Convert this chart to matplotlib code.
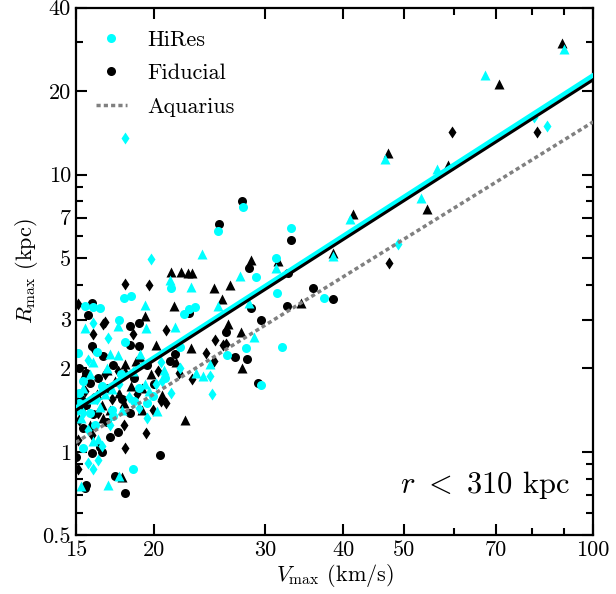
import matplotlib
matplotlib.use("Agg")
import matplotlib.pyplot as plt
import matplotlib.ticker as mticker
import numpy as np

plt.rcParams['font.family'] = 'serif'
plt.rcParams['font.serif'] = ['cmr10', 'DejaVu Serif']
plt.rcParams['mathtext.fontset'] = 'cm'
plt.rcParams['axes.unicode_minus'] = False

# --- Fiducial (black) ---
fid_circ_v = [27.6, 25.4, 33.0, 32.7, 28.3, 35.8, 38.5, 32.5, 28.5, 29.6, 26.0, 28.1, 26.9, 29.3,
              15.9, 15.7, 18.9, 18.3, 18.3, 18.9, 15.9, 16.6, 21.2, 21.6, 15.6, 15.8, 16.1, 16.0,
              17.5, 20.4, 17.3, 18.0, 15.6, 15.5, 15.9, 16.5, 16.4, 17.0, 15.0, 22.7,
              15.3, 15.6, 16.3, 16.9, 17.2, 17.8, 18.6, 19.5, 20.0, 15.2, 16.8, 18.3, 15.4]
fid_circ_r = [8.0, 6.65, 5.8, 4.4, 4.6, 3.9, 3.55, 3.37, 3.3, 3.0, 2.7, 2.17, 2.2, 1.77,
              3.45, 3.12, 2.92, 2.85, 2.43, 2.41, 2.41, 2.22, 2.13, 2.26, 1.92, 1.77, 1.57, 1.37,
              1.18, 0.975, 0.82, 0.71, 0.76, 0.74, 0.99, 1.0, 1.04, 1.13, 0.96, 3.17,
              1.55, 1.48, 1.85, 1.7, 2.05, 1.55, 1.85, 2.05, 1.75, 2.0, 1.28, 1.38, 1.22]

fid_tri_v = [89.2, 70.8, 47.1, 58.7, 54.4, 41.4, 38.5, 28.5, 31.5, 26.4, 24.9, 25.6, 34.3, 26.2,
             27.5, 27.6, 22.9, 23.0, 21.3, 22.1, 22.6, 19.3, 21.5, 20.1, 18.0, 18.7, 21.7, 15.5,
             16.8, 18.0, 19.1, 19.1, 16.5, 17.6, 17.8, 22.4,
             15.3, 16.2, 16.6, 17.3, 17.9, 18.4, 19.8, 20.6, 15.8, 17.0, 19.0]
fid_tri_r = [29.9, 21.3, 12.0, 10.8, 7.5, 7.2, 5.2, 4.9, 4.86, 4.0, 3.9, 3.57, 3.45, 2.9,
             2.7, 2.0, 2.37, 4.4, 4.47, 4.47, 4.4, 3.1, 3.37, 2.43, 2.08, 2.13, 2.1, 1.93,
             1.98, 1.96, 1.7, 1.41, 1.47, 1.63, 0.81, 1.3,
             1.45, 1.62, 1.32, 1.8, 1.5, 1.72, 1.9, 1.6, 1.25, 1.42, 2.2]

fid_diam_v = [59.6, 81.3, 47.3, 18.0, 19.6, 15.1, 16.7, 16.6, 16.0, 18.5, 20.9, 16.0, 21.9, 20.9,
              20.5, 25.0, 25.7, 26.0, 24.2, 24.9, 23.0, 19.4, 18.0, 15.1, 15.1, 17.5, 15.2,
              15.5, 16.3, 17.1, 17.9, 18.8, 19.9, 15.9, 16.7, 20.3]
fid_diam_r = [14.2, 14.2, 4.8, 4.04, 3.98, 3.42, 2.95, 2.9, 2.67, 2.67, 2.76, 2.36, 1.93, 1.5,
              1.53, 2.54, 2.43, 2.45, 2.28, 2.13, 1.83, 1.17, 1.03, 0.87, 1.1, 1.95, 1.3,
              1.65, 1.38, 1.55, 1.25, 1.62, 1.42, 1.15, 1.9, 1.95]

# --- HiRes (cyan) ---
hr_circ_v = [27.7, 25.3, 33.0, 31.2, 29.0, 31.4, 37.3, 31.9, 29.6, 28.0, 26.1, 15.5, 16.0, 16.4,
             17.9, 18.4, 17.6, 21.3, 22.3, 18.0, 15.1, 16.2, 22.0, 19.9, 18.6, 15.2, 17.1, 18.5,
             15.4, 23.2, 22.7,
             15.2, 15.8, 16.5, 17.2, 17.7, 18.9, 15.4, 16.1, 19.5, 20.8]
hr_circ_r = [7.66, 6.28, 6.44, 5.0, 4.28, 3.75, 3.6, 2.39, 1.74, 2.36, 2.24, 3.37, 3.34, 3.31,
             3.6, 3.66, 3.0, 3.91, 3.15, 2.49, 2.28, 2.29, 2.39, 1.59, 1.53, 1.63, 1.41, 0.868,
             1.03, 3.34, 3.28,
             1.5, 1.38, 1.72, 1.35, 1.9, 1.7, 1.8, 1.25, 1.5, 1.85]

hr_tri_v = [90.0, 67.3, 46.6, 56.4, 53.2, 41.0, 38.5, 23.8, 27.4, 25.3, 28.8, 24.5, 23.3, 23.9,
            21.2, 19.3, 15.5, 17.5, 19.4, 21.6, 17.0, 17.5, 19.0, 16.0, 20.7, 15.8, 19.3, 15.4,
            16.7, 17.6, 16.9, 15.3, 16.0, 16.3, 22.9, 31.3, 28.3,
            15.3, 16.4, 17.1, 17.8, 18.5, 19.6, 15.9, 20.2, 16.8]
hr_tri_r = [28.3, 22.8, 11.4, 10.5, 8.26, 6.9, 5.1, 5.19, 4.3, 3.37, 2.6, 2.08, 1.93, 1.87,
            4.17, 3.39, 2.8, 2.85, 2.8, 2.82, 2.26, 2.24, 2.26, 2.1, 1.98, 1.91, 1.76, 1.7,
            1.62, 0.82, 0.76, 0.75, 1.09, 1.11, 3.94, 4.6, 3.45,
            1.32, 1.45, 1.68, 1.42, 1.95, 1.65, 1.55, 1.4, 2.0]

hr_diam_v = [18.0, 80.5, 84.4, 48.9, 19.8, 16.0, 16.9, 20.5, 20.1, 21.3, 18.9, 15.1, 24.5, 24.7,
             15.7, 16.0, 16.3, 15.7, 19.5,
             15.4, 16.2, 17.0, 17.6, 18.2, 20.6, 15.7, 16.5, 22.0]
hr_diam_r = [13.6, 16.1, 15.0, 5.63, 4.98, 2.92, 2.58, 2.1, 1.76, 1.63, 1.44, 1.41, 1.87, 1.61,
             0.91, 0.87, 0.93, 1.2, 1.32,
             1.38, 1.55, 1.25, 1.75, 1.58, 1.8, 2.15, 1.05, 2.0]

# power-law fits R = norm * (V / 15)**slope
fit_pivot = 15.0
hr_fit_norm, hr_fit_slope = 1.44, 1.456
fid_fit_norm, fid_fit_slope = 1.41, 1.448
aq_fit_norm, aq_fit_slope = 1.08, 1.404

x_ticks = [15, 20, 30, 40, 50, 70, 100]
x_minor = [60, 80, 90]
y_ticks = [0.5, 1, 2, 3, 5, 7, 10, 20, 40]
y_minor = [0.6, 0.7, 0.8, 0.9, 4, 6, 8, 9, 30]

cyan = '#00FFFF'

fig = plt.figure(figsize=(6.16, 5.94), dpi=100)
ax = fig.add_axes([0.123, 0.099, 0.840, 0.888])

ms = 6.5
for v, r, m in [(fid_circ_v, fid_circ_r, 'o'), (fid_tri_v, fid_tri_r, '^'),
                (fid_diam_v, fid_diam_r, 'd')]:
    ax.plot(v, r, ls='none', marker=m, ms=ms, color='k', mec='none')
for v, r, m in [(hr_circ_v, hr_circ_r, 'o'), (hr_tri_v, hr_tri_r, '^'),
                (hr_diam_v, hr_diam_r, 'd')]:
    ax.plot(v, r, ls='none', marker=m, ms=ms, color=cyan, mec='none')

vv = np.array([15, 100])
ax.plot(vv, hr_fit_norm * (vv / fit_pivot) ** hr_fit_slope, color=cyan, lw=3.4, zorder=5)
ax.plot(vv, fid_fit_norm * (vv / fit_pivot) ** fid_fit_slope, color='k', lw=2.2, zorder=6)
ax.plot(vv, aq_fit_norm * (vv / fit_pivot) ** aq_fit_slope, color='#808080', lw=2.5,
        ls=(0, (1.2, 0.9)), zorder=4)

# legend handles
h1, = ax.plot([], [], ls='none', marker='o', ms=ms, color=cyan, mec='none', label='HiRes')
h2, = ax.plot([], [], ls='none', marker='o', ms=ms, color='k', mec='none', label='Fiducial')
h3, = ax.plot([], [], color='#808080', lw=2.5, ls=(0, (1.2, 0.9)), label='Aquarius')
ax.legend(handles=[h1, h2, h3], loc='upper left', frameon=False, fontsize=16,
          handlelength=1.4, handletextpad=0.9, labelspacing=0.62, bbox_to_anchor=(0.0, 0.995))

ax.set_xscale('log')
ax.set_yscale('log')
ax.set_xlim(15, 100)
ax.set_ylim(0.5, 40)

ax.xaxis.set_major_locator(mticker.FixedLocator(x_ticks))
ax.xaxis.set_minor_locator(mticker.FixedLocator(x_minor))
ax.xaxis.set_major_formatter(mticker.FixedFormatter([str(t) for t in x_ticks]))
ax.xaxis.set_minor_formatter(mticker.NullFormatter())
ax.yaxis.set_major_locator(mticker.FixedLocator(y_ticks))
ax.yaxis.set_minor_locator(mticker.FixedLocator(y_minor))
ax.yaxis.set_major_formatter(mticker.FixedFormatter([('%g' % t) for t in y_ticks]))
ax.yaxis.set_minor_formatter(mticker.NullFormatter())

ax.tick_params(which='both', direction='in', top=True, right=True, labelsize=16, width=1.5)
ax.tick_params(which='major', length=8)
ax.tick_params(which='minor', length=5)
for sp in ax.spines.values():
    sp.set_linewidth(1.6)

ax.set_xlabel(r'$V_{\rm max}$ (km/s)', fontsize=16, labelpad=2)
ax.set_ylabel(r'$R_{\rm max}$ (kpc)', fontsize=16, labelpad=2)

ax.text(0.955, 0.065, r'$r\ <\ 310$ kpc', transform=ax.transAxes, ha='right', va='bottom',
        fontsize=22)

fig.savefig('out.png', dpi=100)
